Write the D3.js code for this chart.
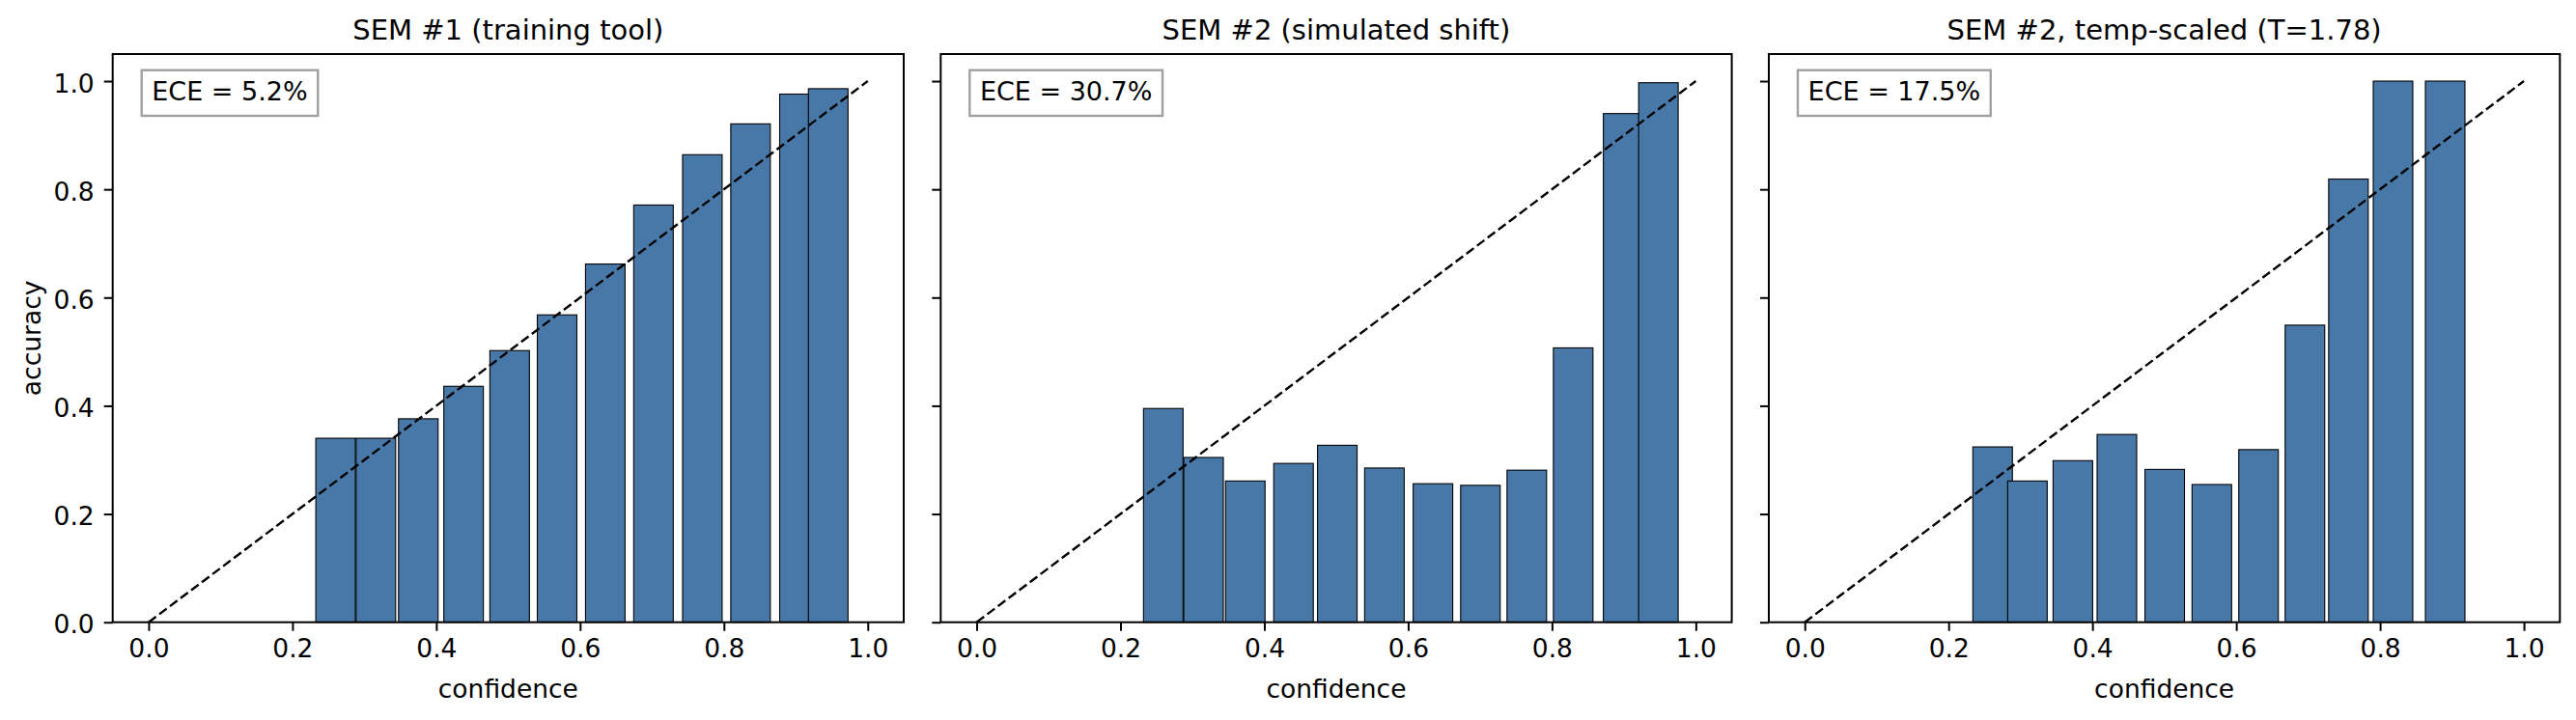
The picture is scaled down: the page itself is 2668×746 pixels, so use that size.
<!DOCTYPE html>
<html>
<head>
<meta charset="utf-8">
<script src="https://cdn.jsdelivr.net/npm/d3@7"></script>
<style>
  html, body { margin: 0; padding: 0; background: #ffffff; }
  svg { display: block; }
</style>
</head>
<body>
<script>
// ---------------- data ----------------
const titles = ["SEM #1 (training tool)", "SEM #2 (simulated shift)", "SEM #2, temp-scaled (T=1.78)"];
const eceLabels = ["ECE = 5.2%", "ECE = 30.7%", "ECE = 17.5%"];

const conf1 = [0.260, 0.316, 0.375, 0.438, 0.502, 0.568, 0.635, 0.702, 0.770, 0.837, 0.905, 0.945];
const acc1  = [0.340, 0.340, 0.376, 0.436, 0.502, 0.568, 0.662, 0.771, 0.864, 0.921, 0.976, 0.986];

const conf2 = [0.2595, 0.3155, 0.3735, 0.4406, 0.5015, 0.567, 0.6345, 0.7005, 0.765, 0.8295, 0.899, 0.948];
const acc2  = [0.395, 0.3045, 0.261, 0.2935, 0.327, 0.285, 0.256, 0.253, 0.281, 0.507, 0.940, 0.997];

const conf3 = [0.2612, 0.3096, 0.3728, 0.434, 0.5005, 0.566, 0.631, 0.6955, 0.756, 0.818, 0.8905];
const acc3  = [0.324, 0.261, 0.2986, 0.347, 0.2824, 0.2545, 0.319, 0.549, 0.819, 1.0, 1.0];

const xTicks = [0.0, 0.2, 0.4, 0.6, 0.8, 1.0];
const yTicks = [0.0, 0.2, 0.4, 0.6, 0.8, 1.0];
const diagonal = [[0, 0], [1, 1]];
const barWidth = 0.055;

// ---------------- layout ----------------
const W = 2668, H = 746;
const axTop = 56, axH = 588.7, axW = 819.3;
const axLefts = [116.7, 974.3, 1832.0];
const FONT = "DejaVu Sans, Liberation Sans, sans-serif";
const tickFont = 26.5, labelFont = 26.5, titleFont = 29, eceFont = 27;
const barColor = "#4878a8";

const svg = d3.select("body").append("svg")
  .attr("width", W).attr("height", H)
  .attr("viewBox", `0 0 ${W} ${H}`);
svg.append("rect").attr("width", W).attr("height", H).attr("fill", "#fff");

const panels = [
  {conf: conf1, acc: acc1},
  {conf: conf2, acc: acc2},
  {conf: conf3, acc: acc3}
];

panels.forEach((p, i) => {
  const left = axLefts[i];
  const x = d3.scaleLinear().domain([-0.05, 1.05]).range([0, axW]);
  const y = d3.scaleLinear().domain([0, 1.05]).range([axH, 0]);
  const g = svg.append("g").attr("transform", `translate(${left},${axTop})`);

  const data = p.conf.map((c, k) => ({c, a: p.acc[k]}));

  // bars
  g.selectAll("rect.bar").data(data).enter().append("rect")
    .attr("class", "bar")
    .attr("x", d => x(d.c - barWidth / 2))
    .attr("width", d => x(d.c + barWidth / 2) - x(d.c - barWidth / 2))
    .attr("y", d => y(d.a))
    .attr("height", d => y(0) - y(d.a))
    .attr("fill", barColor)
    .attr("stroke", "#000")
    .attr("stroke-width", 1.1);

  // diagonal reference
  const line = d3.line().x(d => x(d[0])).y(d => y(d[1]));
  g.append("path").datum(diagonal)
    .attr("d", line)
    .attr("fill", "none")
    .attr("stroke", "#000")
    .attr("stroke-width", 2.4)
    .attr("stroke-dasharray", "9.6,4.2");

  // axes
  const xAxis = d3.axisBottom(x).tickValues(xTicks).tickFormat(d3.format(".1f"))
    .tickSize(9).tickPadding(8);
  const gx = g.append("g").attr("transform", `translate(0,${axH})`).call(xAxis);
  gx.select(".domain").remove();
  gx.selectAll(".tick line").attr("stroke", "#000").attr("stroke-width", 2);
  gx.selectAll(".tick text")
    .attr("font-family", FONT).attr("font-size", tickFont).attr("fill", "#000")
    .attr("dy", "0.72em");

  const yAxis = d3.axisLeft(y).tickValues(yTicks)
    .tickFormat(i === 0 ? d3.format(".1f") : () => "")
    .tickSize(9).tickPadding(10);
  const gy = g.append("g").call(yAxis);
  gy.select(".domain").remove();
  gy.selectAll(".tick line").attr("stroke", "#000").attr("stroke-width", 2);
  gy.selectAll(".tick text")
    .attr("font-family", FONT).attr("font-size", tickFont).attr("fill", "#000")
    .attr("dy", "0.42em");

  // frame (spines)
  g.append("rect")
    .attr("x", 0).attr("y", 0).attr("width", axW).attr("height", axH)
    .attr("fill", "none").attr("stroke", "#000").attr("stroke-width", 2);

  // title
  svg.append("text")
    .attr("x", left + axW / 2).attr("y", 40.7)
    .attr("text-anchor", "middle")
    .attr("font-family", FONT).attr("font-size", titleFont).attr("fill", "#000")
    .text(titles[i]);

  // x label
  svg.append("text")
    .attr("x", left + axW / 2).attr("y", 722.7)
    .attr("text-anchor", "middle")
    .attr("font-family", FONT).attr("font-size", labelFont).attr("fill", "#000")
    .text("confidence");

  // ECE annotation box
  const box = g.append("rect")
    .attr("x", 30).attr("y", 16.7)
    .attr("height", 47.3)
    .attr("fill", "#fff").attr("stroke", "#a0a0a0").attr("stroke-width", 2.4);
  const t = g.append("text")
    .attr("x", 40.6).attr("y", 48)
    .attr("font-family", FONT).attr("font-size", eceFont).attr("fill", "#000")
    .text(eceLabels[i]);
  const tw = t.node().getComputedTextLength();
  box.attr("width", tw + 21.2);
});

// y label
svg.append("text")
  .attr("transform", `translate(41.5,${axTop + axH / 2}) rotate(-90)`)
  .attr("text-anchor", "middle")
  .attr("font-family", FONT).attr("font-size", labelFont).attr("fill", "#000")
  .text("accuracy");
</script>
</body>
</html>
